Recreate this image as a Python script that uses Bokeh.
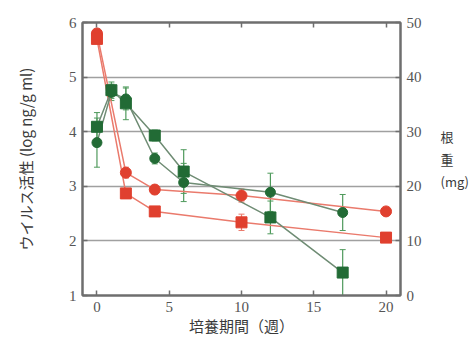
from bokeh.plotting import figure
from bokeh.models import Range1d, LinearAxis, FixedTicker, Whisker, ColumnDataSource
from bokeh.embed import file_html
from bokeh.resources import INLINE

# ---- data ----
weeks_red = [0, 2, 4, 10, 20]
red_circle = [5.8, 3.25, 2.94, 2.83, 2.54]      # ウイルス活性 (log)
red_circle_err = [0.08, 0.1, 0.08, 0.12, 0.06]
red_square = [5.7, 2.87, 2.54, 2.34, 2.06]
red_square_err = [0.08, 0.08, 0.08, 0.15, 0.06]

weeks_green = [0, 1, 2, 4, 6, 12, 17]
green_square = [30.9, 37.6, 35.2, 29.3, 22.7, 14.3, 4.2]   # 根重 (mg)
green_square_err = [2.6, 1.5, 3.0, 1.0, 4.0, 3.0, 4.2]
green_circle = [28.0, 37.2, 36.0, 25.1, 20.7, 18.9, 15.2]
green_circle_err = [4.5, 1.5, 2.0, 1.0, 3.5, 3.5, 3.3]

x_ticks = [0, 5, 10, 15, 20]
left_ticks = [1, 2, 3, 4, 5, 6]
right_ticks = [0, 10, 20, 30, 40, 50]

RED = "#e0402f"
RED_LINE = "#ea7a6c"
GREEN = "#226b35"
GREEN_LINE = "#6f8c74"
AX = "#6e6e6e"
NUM_FONT = "Liberation Serif"
JP_FONT = "Noto Sans CJK JP"

p = figure(frame_width=318, frame_height=273, x_range=Range1d(-1, 21), y_range=Range1d(1, 6),
           output_backend="svg", toolbar_location=None,
           min_border_left=82, min_border_right=58, min_border_top=22, min_border_bottom=40)
p.extra_y_ranges = {"mg": Range1d(0, 50)}

p.outline_line_color = AX
p.outline_line_width = 2
p.xgrid.visible = False
p.ygrid.ticker = FixedTicker(ticks=[2, 3, 4, 5])
p.ygrid.grid_line_color = "#a0a0a0"
p.ygrid.grid_line_width = 1.5

# bottom axis
p.xaxis.ticker = FixedTicker(ticks=x_ticks)
p.xaxis.axis_label = "培養期間（週）"
# left axis
p.yaxis.ticker = FixedTicker(ticks=left_ticks)
p.yaxis.axis_label = "ウイルス活性 (log ng/g ml)"

for ax in [p.xaxis[0], p.yaxis[0]]:
    ax.axis_line_color = AX
    ax.axis_line_width = 2
    ax.major_tick_line_color = AX
    ax.major_tick_line_width = 1.5
    ax.major_tick_in = 5
    ax.major_tick_out = 0
    ax.minor_tick_line_color = None
    ax.major_label_text_font = NUM_FONT
    ax.major_label_text_font_size = "15px"
    ax.major_label_text_color = "#555555"
    ax.axis_label_text_font = JP_FONT
    ax.axis_label_text_font_size = "15px"
    ax.axis_label_text_font_style = "normal"
    ax.axis_label_text_color = "#3a3a3a"
p.xaxis.major_label_standoff = 6
p.xaxis.axis_label_standoff = 0
p.yaxis.major_label_standoff = 6
p.yaxis.axis_label_standoff = 30

# right axis
right = LinearAxis(y_range_name="mg", ticker=FixedTicker(ticks=right_ticks),
                   axis_label="根\n重\n(mg)", axis_label_orientation="horizontal")
# top axis
top = LinearAxis(ticker=FixedTicker(ticks=x_ticks))
top.major_label_text_alpha = 0
top.major_label_text_font_size = "1px"
for ax in [right, top]:
    ax.axis_line_color = AX
    ax.axis_line_width = 2
    ax.major_tick_line_color = AX
    ax.major_tick_line_width = 1.5
    ax.major_tick_in = 5
    ax.major_tick_out = 0
    ax.minor_tick_line_color = None
    ax.major_label_text_font = NUM_FONT
    ax.major_label_text_font_size = "15px"
    ax.major_label_text_color = "#555555"
    ax.axis_label_text_font = JP_FONT
    ax.axis_label_text_font_size = "13px"
    ax.axis_label_text_font_style = "normal"
    ax.axis_label_text_color = "#3a3a3a"
right.major_label_standoff = 6
right.axis_label_standoff = 16
top.major_label_standoff = 0
top.axis_label_standoff = 0
p.add_layout(right, "right")
p.add_layout(top, "above")

# ---- sources ----
src_rc = ColumnDataSource(dict(x=weeks_red, y=red_circle,
                               lo=[v - e for v, e in zip(red_circle, red_circle_err)],
                               hi=[v + e for v, e in zip(red_circle, red_circle_err)]))
src_rs = ColumnDataSource(dict(x=weeks_red, y=red_square,
                               lo=[v - e for v, e in zip(red_square, red_square_err)],
                               hi=[v + e for v, e in zip(red_square, red_square_err)]))
src_gc = ColumnDataSource(dict(x=weeks_green, y=green_circle,
                               lo=[v - e for v, e in zip(green_circle, green_circle_err)],
                               hi=[v + e for v, e in zip(green_circle, green_circle_err)]))
src_gs = ColumnDataSource(dict(x=weeks_green, y=green_square,
                               lo=[v - e for v, e in zip(green_square, green_square_err)],
                               hi=[v + e for v, e in zip(green_square, green_square_err)]))

p.line("x", "y", source=src_rc, line_color=RED_LINE, line_width=1.5)
p.line("x", "y", source=src_rs, line_color=RED_LINE, line_width=1.5)
p.line("x", "y", source=src_gc, line_color=GREEN_LINE, line_width=1.5, y_range_name="mg")
p.line("x", "y", source=src_gs, line_color=GREEN_LINE, line_width=1.5, y_range_name="mg")

for src, col, rn in [(src_rc, RED_LINE, "default"), (src_rs, RED_LINE, "default"),
                     (src_gc, "#4f9a5c", "mg"), (src_gs, "#4f9a5c", "mg")]:
    w = Whisker(source=src, base="x", lower="lo", upper="hi", dimension="height",
                line_color=col, line_width=1.2, y_range_name=rn)
    w.upper_head.size = 6
    w.lower_head.size = 6
    w.upper_head.line_color = col
    w.lower_head.line_color = col
    p.add_layout(w)

p.scatter("x", "y", source=src_rc, marker="circle", size=11, fill_color=RED, line_color=RED)
p.scatter("x", "y", source=src_rs, marker="square", size=11, fill_color=RED, line_color=RED)
p.scatter("x", "y", source=src_gc, marker="circle", size=10, fill_color=GREEN, line_color=GREEN,
          y_range_name="mg")
p.scatter("x", "y", source=src_gs, marker="square", size=11, fill_color=GREEN, line_color=GREEN,
          y_range_name="mg")

open("out.html", "w").write(file_html(p, INLINE))
